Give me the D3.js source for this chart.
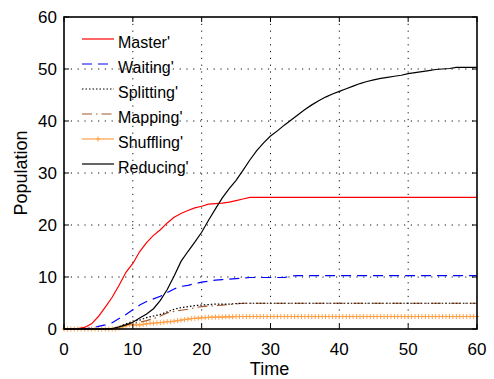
<!DOCTYPE html>
<html>
<head>
<meta charset="utf-8">
<script src="https://cdn.jsdelivr.net/npm/d3@7/dist/d3.min.js"></script>
<style>
  body { margin: 0; background: #fff; }
  svg text { font-family: "Liberation Sans", Arial, sans-serif; fill: #000; }
</style>
</head>
<body>
<div id="chart_area"></div>
<script>
// time steps (1 unit) shared by most series
var time = [0,1,2,3,4,5,6,7,8,9,10,11,12,13,14,15,16,17,18,19,20,
            21,22,23,24,25,26,27,28,29,30,31,32,33,34,35,36,37,38,39,40,
            41,42,43,44,45,46,47,48,49,50,51,52,53,54,55,56,57,58,59,60];

var master = [0,0,0.1,0.3,1.0,2.4,4.2,6.1,8.4,10.9,12.6,14.9,16.6,18.0,19.1,20.4,21.5,22.2,22.8,23.3,23.6,
              24.0,24.1,24.2,24.4,24.7,25.0,25.3,25.3,25.3,25.3,25.3,25.3,25.3,25.3,25.3,25.3,25.3,25.3,25.3,25.3,
              25.3,25.3,25.3,25.3,25.3,25.3,25.3,25.3,25.3,25.3,25.3,25.3,25.3,25.3,25.3,25.3,25.3,25.3,25.3,25.3];

var waiting = [0,0,0,0,0.2,0.5,0.8,1.2,2.0,2.8,3.7,4.6,5.3,5.8,6.3,7.0,7.7,8.2,8.4,8.7,9.0,
               9.2,9.4,9.5,9.6,9.7,9.8,9.9,9.9,9.9,9.9,9.9,9.9,10.2,10.25,10.25,10.25,10.25,10.25,10.25,10.25,
               10.25,10.25,10.25,10.25,10.25,10.25,10.25,10.25,10.25,10.25,10.25,10.25,10.25,10.25,10.25,10.25,10.25,10.25,10.25,10.25];

var splitting = [0,0,0,0,0,0,0,0,0.4,1.0,1.5,1.7,2.2,2.5,2.8,3.3,3.8,4.1,4.3,4.5,4.6,
                 4.7,4.8,4.8,4.8,4.9,4.95,4.95,4.95,4.95,4.95,4.95,4.95,4.95,4.95,4.95,4.95,4.95,4.95,4.95,4.95,
                 4.95,4.95,4.95,4.95,4.95,4.95,4.95,4.95,4.95,4.95,4.95,4.95,4.95,4.95,4.95,4.95,4.95,4.95,4.95,4.95];

var mapping = [0,0,0,0,0,0,0,0,0.3,0.8,1.1,1.3,1.6,2.0,2.5,3.1,3.4,3.6,3.8,4.1,4.3,
               4.4,4.5,4.6,4.7,4.8,4.95,4.95,4.95,4.95,4.95,4.95,4.95,4.95,4.95,4.95,4.95,4.95,4.95,4.95,4.95,
               4.95,4.95,4.95,4.95,4.95,4.95,4.95,4.95,4.95,4.95,4.95,4.95,4.95,4.95,4.95,4.95,4.95,4.95,4.95,4.95];

var reducing = [0,0,0,0,0,0,0,0.1,0.4,0.8,1.3,2.1,2.9,3.9,5.5,7.6,10.2,13.0,14.9,16.7,18.6,
                20.9,23.1,25.2,27.0,28.6,30.5,32.5,34.3,35.8,37.1,38.1,39.2,40.2,41.2,42.2,43.1,43.9,44.6,45.2,45.7,
                46.2,46.7,47.2,47.6,47.9,48.2,48.4,48.6,48.8,49.1,49.3,49.5,49.7,49.9,50.0,50.1,50.3,50.3,50.3,50.3];

// shuffling is sampled more densely (one marker per sample)
var shuffleTime = [0,0.5,1,1.5,2,2.5,3,3.5,4,4.5,5,5.5,6,6.5,7,7.5,8,8.5,9,9.5,10,
                   10.5,11,11.5,12,12.5,13,13.5,14,14.5,15,15.5,16,16.5,17,17.5,18,18.5,19,19.5,20,
                   20.5,21,21.5,22,22.5,23,23.5,24,24.5,25,25.5,26,26.5,27,27.5,28,28.5,29,29.5,30,
                   30.5,31,31.5,32,32.5,33,33.5,34,34.5,35,35.5,36,36.5,37,37.5,38,38.5,39,39.5,40,
                   40.5,41,41.5,42,42.5,43,43.5,44,44.5,45,45.5,46,46.5,47,47.5,48,48.5,49,49.5,50,
                   50.5,51,51.5,52,52.5,53,53.5,54,54.5,55,55.5,56,56.5,57,57.5,58,58.5,59,59.5,60];
var shuffling = [0,0,0,0,0,0,0,0,0,0,0,0,0,0,0,0,0.2,0.4,0.6,0.8,0.8,
                 0.8,0.8,0.9,1.0,1.1,1.1,1.2,1.2,1.3,1.4,1.4,1.5,1.6,1.7,1.8,1.9,2.0,2.05,2.1,2.15,
                 2.2,2.25,2.25,2.3,2.3,2.3,2.35,2.35,2.35,2.4,2.4,2.4,2.4,2.4,2.4,2.4,2.4,2.4,2.4,2.4,
                 2.4,2.4,2.4,2.4,2.4,2.4,2.4,2.4,2.4,2.4,2.4,2.4,2.4,2.4,2.4,2.4,2.4,2.4,2.4,2.4,
                 2.4,2.4,2.4,2.4,2.4,2.4,2.4,2.4,2.4,2.4,2.4,2.4,2.4,2.4,2.4,2.4,2.4,2.4,2.4,2.4,
                 2.4,2.4,2.4,2.4,2.4,2.4,2.4,2.4,2.4,2.4,2.4,2.4,2.4,2.4,2.4,2.4,2.4,2.4,2.4,2.4];

var legendNames = ["Master'", "Waiting'", "Splitting'", "Mapping'", "Shuffling'", "Reducing'"];
var xTicks = [0,10,20,30,40,50,60];
var yTicks = [0,10,20,30,40,50,60];

////////////////////// SETUP //////////////////////

var frame_width = 494, frame_height = 379;
var margin = {top: 17, right: 17, bottom: 50, left: 64};
var canvas_width = frame_width - margin.left - margin.right;
var canvas_height = frame_height - margin.top - margin.bottom;

var frame = d3.select("#chart_area").append("svg")
    .attr("width", frame_width)
    .attr("height", frame_height);
var canvas = frame.append("g")
    .attr("transform", "translate(" + margin.left + "," + margin.top + ")");

var xScale = d3.scaleLinear().domain([0, 60]).range([0, canvas_width]);
var yScale = d3.scaleLinear().domain([0, 60]).range([canvas_height, 0]);

// dotted grid
canvas.append("g").selectAll("line")
    .data(xTicks.slice(1, -1)).enter().append("line")
    .attr("x1", function(d){ return xScale(d); }).attr("x2", function(d){ return xScale(d); })
    .attr("y1", 0).attr("y2", canvas_height)
    .attr("stroke", "#111").attr("stroke-width", 1).attr("stroke-dasharray", "1.2,5.6");
canvas.append("g").selectAll("line")
    .data(yTicks.slice(1, -1)).enter().append("line")
    .attr("y1", function(d){ return yScale(d); }).attr("y2", function(d){ return yScale(d); })
    .attr("x1", 0).attr("x2", canvas_width)
    .attr("stroke", "#111").attr("stroke-width", 1).attr("stroke-dasharray", "1.2,5.6");

////////////////////// SERIES //////////////////////

var series = [
  {name: legendNames[0], t: time, v: master, color: "#ff0000", dash: null},
  {name: legendNames[1], t: time, v: waiting, color: "#0000ff", dash: "10,6"},
  {name: legendNames[2], t: time, v: splitting, color: "#000000", dash: "1.5,2"},
  {name: legendNames[3], t: time, v: mapping, color: "#a5582a", dash: "10,4,1.5,4"},
  {name: legendNames[4], t: shuffleTime, v: shuffling, color: "#ffa048", dash: null, marker: true},
  {name: legendNames[5], t: time, v: reducing, color: "#000000", dash: null}
];

var line = d3.line()
    .x(function(d){ return xScale(d[0]); })
    .y(function(d){ return yScale(d[1]); });

frame.append("defs").append("clipPath").attr("id", "plotclip")
    .append("rect").attr("x", -3).attr("y", -3)
    .attr("width", canvas_width + 6).attr("height", canvas_height + 6);

var plot = canvas.append("g").attr("clip-path", "url(#plotclip)");

// draw order: shuffling first so the others sit on top at zero
var order = [4, 3, 2, 1, 0, 5];
order.forEach(function(k){
  var s = series[k];
  var pts = s.t.map(function(t, i){ return [t, s.v[i]]; });
  plot.append("path")
      .datum(pts)
      .attr("d", line)
      .attr("fill", "none")
      .attr("stroke", s.color)
      .attr("stroke-width", 1.2)
      .attr("stroke-dasharray", s.dash);
  if (s.marker) {
    plot.append("g").selectAll("path")
        .data(pts).enter().append("path")
        .attr("d", function(d){
          var x = xScale(d[0]), y = yScale(d[1]);
          return "M" + (x - 2) + "," + y + "H" + (x + 2) + "M" + x + "," + (y - 2.5) + "V" + (y + 2.5);
        })
        .attr("stroke", s.color).attr("stroke-width", 1).attr("fill", "none");
  }
});

////////////////////// AXES //////////////////////

// box
canvas.append("rect")
    .attr("x", 0).attr("y", 0)
    .attr("width", canvas_width).attr("height", canvas_height)
    .attr("fill", "none").attr("stroke", "#000").attr("stroke-width", 1.6);

// inward ticks on all four sides
var tickLen = 5;
xTicks.forEach(function(d){
  var x = xScale(d);
  canvas.append("line").attr("x1", x).attr("x2", x).attr("y1", canvas_height).attr("y2", canvas_height - tickLen)
      .attr("stroke", "#000");
  canvas.append("line").attr("x1", x).attr("x2", x).attr("y1", 0).attr("y2", tickLen)
      .attr("stroke", "#000");
  canvas.append("text").attr("x", x).attr("y", canvas_height + 26)
      .attr("text-anchor", "middle").style("font-size", "17px").text(d);
});
yTicks.forEach(function(d){
  var y = yScale(d);
  canvas.append("line").attr("x1", 0).attr("x2", tickLen).attr("y1", y).attr("y2", y)
      .attr("stroke", "#000");
  canvas.append("line").attr("x1", canvas_width).attr("x2", canvas_width - tickLen).attr("y1", y).attr("y2", y)
      .attr("stroke", "#000");
  canvas.append("text").attr("x", -7).attr("y", y + 6)
      .attr("text-anchor", "end").style("font-size", "17px").text(d);
});

// axis titles
canvas.append("text")
    .attr("x", canvas_width / 2 - 1).attr("y", canvas_height + 46)
    .attr("text-anchor", "middle").style("font-size", "18px").text("Time");
canvas.append("text")
    .attr("transform", "translate(" + (-37) + "," + (canvas_height / 2) + ") rotate(-90)")
    .attr("text-anchor", "middle").style("font-size", "18px").text("Population");

////////////////////// LEGEND //////////////////////

var legend = canvas.append("g").attr("transform", "translate(18,22)");
series.forEach(function(s, i){
  var g = legend.append("g").attr("transform", "translate(0," + (i * 25) + ")");
  g.append("line").attr("x1", 0).attr("x2", 32).attr("y1", 0).attr("y2", 0)
      .attr("stroke", s.color).attr("stroke-width", 1.2)
      .attr("stroke-dasharray", s.dash);
  if (s.marker) {
    g.append("path").attr("d", "M14,0H18M16,-2.5V2.5")
        .attr("stroke", s.color).attr("stroke-width", 1).attr("fill", "none");
  }
  g.append("text").attr("x", 36).attr("y", 9)
      .style("font-size", "16px").text(s.name);
});
</script>
</body>
</html>
